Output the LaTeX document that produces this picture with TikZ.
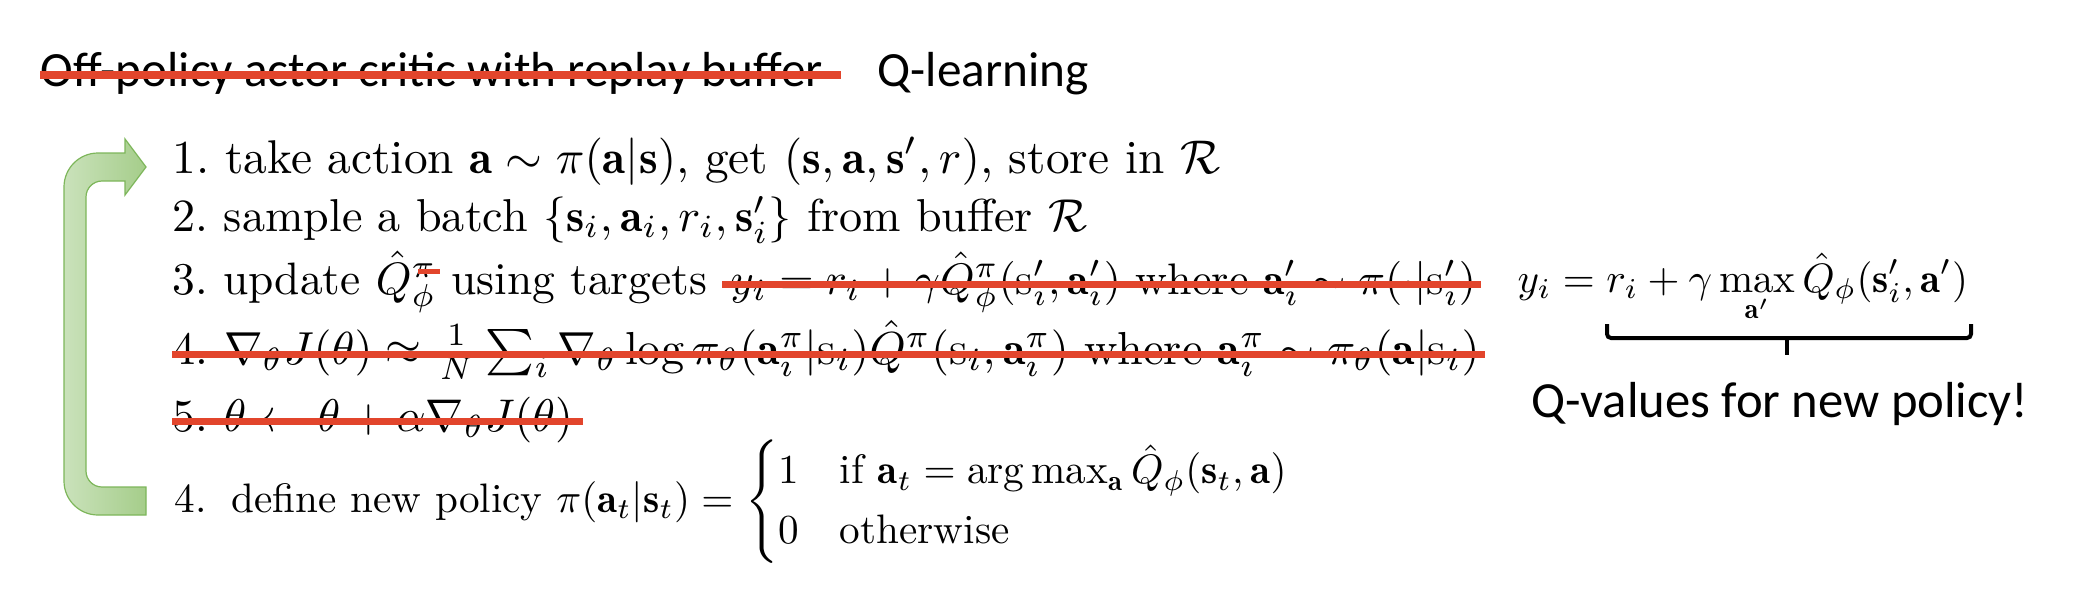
\documentclass[tikz,border=0pt]{standalone}
\usepackage{amsmath,amssymb}
\usepackage{graphicx}
\usepackage{fontspec}
\newfontfamily\slidefont{Carlito}
\definecolor{strikered}{RGB}{226,69,44}
\definecolor{arrowL}{RGB}{202,226,187}
\definecolor{arrowR}{RGB}{165,205,138}
\definecolor{arrowE}{RGB}{125,182,90}
\newcommand{\fsz}[1]{\fontsize{#1}{1.2\dimexpr#1pt\relax}\selectfont}
\newcommand{\fitw}[2]{\resizebox{#1}{!}{\fontsize{10}{12}\selectfont #2}}
\begin{document}
\begin{tikzpicture}[x=0.01cm,y=-0.01cm,
  item/.style={anchor=base west,inner sep=0pt},
  sans/.style={anchor=base west,inner sep=0pt,font=\slidefont\fsz{14}},
  strikeline/.style={draw=strikered,line width=0.07cm},
  bracket/.style={draw=black,line width=0.04cm,rounded corners=0.04cm},
  loop/.style={draw=arrowE,line width=0.012cm,left color=arrowL,right color=arrowR}
]
\path[use as bounding box] (0,0) rectangle (2100,606);

% title
\node[sans] (title) at (40,87) {Off-policy actor critic with replay buffer};
\node[sans] (ql) at (877,87) {Q-learning};
\draw[strikeline] (title.west |- 0,75) -- ([xshift=0.17cm]title.east |- 0,75);

% loop arrow
\path[loop] (146,515) [rounded corners=0.34cm] -- (64,515) -- (64,153) [sharp corners] -- (125,153)
  -- (125,139) -- (146,167) -- (125,195) -- (125,181) [rounded corners=0.16cm] -- (86,181) -- (86,487) [sharp corners] -- (146,487) -- cycle;

% lines
\node[item] (l1) at (172,173) {\fitw{10.47cm}{1.\ take action $\mathbf{a}\sim\pi(\mathbf{a}|\mathbf{s})$, get $(\mathbf{s},\mathbf{a},\mathbf{s}',r)$, store in $\mathcal{R}$}};
\node[item] (l2) at (172,231) {\fitw{9.14cm}{2.\ sample a batch $\{\mathbf{s}_i,\mathbf{a}_i,r_i,\mathbf{s}'_i\}$ from buffer $\mathcal{R}$}};
\node[item] (l3a) at (172,294) {\fitw{5.34cm}{3.\ update $\hat{Q}^{\pi}_{\phi}$ using targets}};
\node[item] (l3b) at (730,294) {\fitw{7.45cm}{$y_i=r_i+\gamma\hat{Q}^{\pi}_{\phi}(\mathrm{s}'_i,\mathbf{a}'_i)$ where $\mathbf{a}'_i\sim\pi(\cdot|\mathrm{s}'_i)$}};
\node[item] (l4) at (172,364) {\fitw{13.06cm}{4.\ $\nabla_\theta J(\theta)\approx\frac{1}{N}\sum_i\nabla_\theta\log\pi_\theta(\mathbf{a}^\pi_i|\mathrm{s}_i)\hat{Q}^\pi(\mathrm{s}_i,\mathbf{a}^\pi_i)$ where $\mathbf{a}^\pi_i\sim\pi_\theta(\mathbf{a}|\mathrm{s}_i)$}};
\node[item] (l5) at (172,431) {\fitw{4.00cm}{5.\ $\theta\leftarrow\theta+\alpha\nabla_\theta J(\theta)$}};
\node[item] (l6) at (174,512) {\fitw{11.16cm}{4.\hspace{0.6em}define new policy $\pi(\mathbf{a}_t|\mathbf{s}_t)=\begin{cases}1 & \text{if } \mathbf{a}_t=\arg\max_{\mathbf{a}}\hat{Q}_\phi(\mathbf{s}_t,\mathbf{a})\\ 0 & \text{otherwise}\end{cases}$}};

\draw[strikeline] ([xshift=-0.08cm]l3b.west |- 0,284) -- ([xshift=0.04cm]l3b.east |- 0,284);
\draw[strikeline,line width=0.05cm] (418,271) -- (440,271);
\draw[strikeline] (l4.west |- 0,354) -- ([xshift=0.05cm]l4.east |- 0,354);
\draw[strikeline] (l5.west |- 0,421) -- ([xshift=0.09cm]l5.east |- 0,421);

% right side
\node[item] (yq) at (1517,292) {\fitw{4.50cm}{$\displaystyle y_i=r_i+\gamma\max_{\mathbf{a}'}\hat{Q}_\phi(\mathbf{s}'_i,\mathbf{a}')$}};
\draw[bracket] (1607,324) -- (1607,338) -- (1971,338) -- (1971,324);
\draw[line width=0.04cm] (1787,338) -- (1787,355);
\node[sans,anchor=base,font=\slidefont\fsz{14.4}] (qv) at (1780,417) {Q-values for new policy!};
\end{tikzpicture}
\end{document}
